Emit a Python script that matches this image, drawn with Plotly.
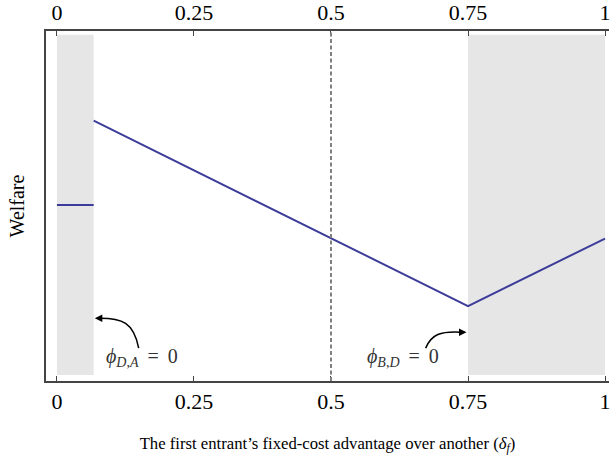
import plotly.graph_objects as go

# ---- data ----
seg1_x = [0.0, 0.067]
seg1_y = [0.503, 0.503]
seg2_x = [0.067, 0.75, 1.0]
seg2_y = [0.744, 0.214, 0.407]
shade_regions = [(0.0, 0.067), (0.75, 1.0)]
shade_y = (0.017, 0.989)
tick_vals = [0, 0.25, 0.5, 0.75, 1]
tick_text = ["0", "0.25", "0.5", "0.75", "1"]
divider_x = 0.5

W, H = 611, 463
L, T, B = 46, 30, 82
X0PX, PXU = 57, 550  # x=0 pixel, pixels per unit
xr = [(L - X0PX) / PXU, (W - X0PX) / PXU]
ytop, ybot = T, H - B


def dx(px):
    return (px - X0PX) / PXU


def dy(py):
    return (ybot - py) / (ybot - ytop)


FONT = "Liberation Serif, Times New Roman, Times, serif"
LINE_COLOR = "#3c3c9a"

fig = go.Figure()
fig.add_trace(go.Scatter(x=seg1_x, y=seg1_y, mode="lines",
                         line=dict(color=LINE_COLOR, width=2), showlegend=False, hoverinfo="skip"))
fig.add_trace(go.Scatter(x=seg2_x, y=seg2_y, mode="lines",
                         line=dict(color=LINE_COLOR, width=2), showlegend=False, hoverinfo="skip"))
# invisible trace for top axis
fig.add_trace(go.Scatter(x=[0, 1], y=[0, 0], xaxis="x2", mode="lines",
                         line=dict(width=0), opacity=0, showlegend=False, hoverinfo="skip"))

shapes = []
for a, b in shade_regions:
    shapes.append(dict(type="rect", xref="x", yref="y", x0=a, x1=b, y0=shade_y[0], y1=shade_y[1],
                       fillcolor="#e6e6e6", line=dict(width=0), layer="below"))
shapes.append(dict(type="line", xref="x", yref="paper", x0=divider_x, x1=divider_x, y0=0, y1=1,
                   line=dict(color="#808080", width=2, dash="4px,2.5px")))


def path(pts):
    (x0, y0), (x1, y1), (x2, y2), (x3, y3) = [(dx(a), dy(b)) for a, b in pts]
    return f"M {x0},{y0} C {x1},{y1} {x2},{y2} {x3},{y3}"


shapes.append(dict(type="path", xref="x", yref="y",
                   path=path([(139, 348), (134, 322), (122, 318), (100, 318)]),
                   line=dict(color="black", width=1.5)))
shapes.append(dict(type="path", xref="x", yref="y",
                   path=path([(427, 348), (433, 334), (442, 331), (462, 332)]),
                   line=dict(color="black", width=1.5)))

NB = "\u2009"
annotations = [
    dict(x=dx(95), y=dy(318), xref="x", yref="y", ax=8, ay=0, showarrow=True,
         arrowhead=2, arrowsize=1, arrowwidth=1.5, arrowcolor="black", text=""),
    dict(x=dx(468), y=dy(332), xref="x", yref="y", ax=-8, ay=0, showarrow=True,
         arrowhead=2, arrowsize=1, arrowwidth=1.5, arrowcolor="black", text=""),
    dict(x=dx(142), y=dy(357), xref="x", yref="y", showarrow=False,
         text="<i>ϕ</i><sub><i>D</i>,<i>A</i></sub>" + NB + " = " + NB + "0",
         font=dict(family=FONT, size=20, color="#333333")),
    dict(x=dx(404), y=dy(357), xref="x", yref="y", showarrow=False,
         text="<i>ϕ</i><sub><i>B</i>,<i>D</i></sub>" + NB + " = " + NB + "0",
         font=dict(family=FONT, size=20, color="#333333")),
]

axis_common = dict(range=xr, tickvals=tick_vals, ticktext=tick_text, ticks="inside", ticklen=5,
                   tickcolor="#444", tickwidth=1, showgrid=False, zeroline=False,
                   showline=True, linecolor="#444", linewidth=1.5, ticklabeloverflow="allow",
                   tickfont=dict(family=FONT, size=22, color="black"))

fig.update_layout(
    width=W, height=H,
    margin=dict(l=L, r=0, t=T, b=B, pad=0),
    paper_bgcolor="white", plot_bgcolor="white",
    shapes=shapes, annotations=annotations,
    xaxis=dict(**axis_common,
               title=dict(text="The first entrant’s fixed-cost advantage over another (<i>δ</i><sub><i>f</i></sub>)",
                          font=dict(family=FONT, size=16.7, color="black"), standoff=24)),
    xaxis2=dict(**axis_common, overlaying="x", side="top", matches="x", anchor="y"),
    yaxis=dict(range=[0, 1], showticklabels=False, ticks="", showgrid=False, zeroline=False,
               showline=True, linecolor="#444", linewidth=1.5,
               title=dict(text="Welfare", font=dict(family=FONT, size=20, color="black"), standoff=14)),
)

fig.write_html("out.html")
